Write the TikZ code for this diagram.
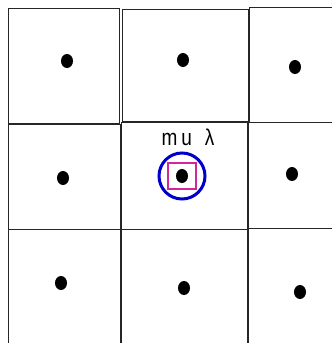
\documentclass[tikz,border=0pt]{standalone}
\usepackage{fontspec}
\setmainfont{Liberation Sans}
\usetikzlibrary{positioning,shapes.geometric}

\begin{document}
\begin{tikzpicture}[
  x=1pt,y=-1pt,
  font=\fontsize{19}{22}\selectfont,
  cell/.style={draw=black!85,line width=0.9pt},
  site/.style={ellipse,fill=black,inner sep=0pt,minimum width=12pt,minimum height=14pt},
  ring/.style={circle,draw=blue!80!black,line width=3pt,minimum size=46pt,inner sep=0pt},
  probe/.style={rectangle,draw={rgb,255:red,208;green,40;blue,150},line width=2pt,minimum width=28pt,minimum height=26pt,inner sep=0pt}
]
\useasboundingbox (0,0) rectangle (332,343);
\clip (0,0) rectangle (332,343);

% cells
\draw[cell] (8,8) rectangle (119,123);
\draw[cell] (122,9) rectangle (248,121);
\draw[cell] (249,7) rectangle (340,122);
\draw[cell] (8,124) rectangle (120,229);
\draw[cell] (121,122) rectangle (247,229);
\draw[cell] (248,122) rectangle (340,228);
\draw[cell] (8,229) rectangle (120,350);
\draw[cell] (121,229) rectangle (247,350);
\draw[cell] (248,228) rectangle (340,350);

% sites
\node[site] (a) at (67,61) {};
\node[site] (b) at (183,60) {};
\node[site] (c) at (295,67) {};
\node[site] (d) at (63,178) {};
\node[site] (e) at (182,176) {};
\node[site] (f) at (292,174) {};
\node[site] (g) at (61,283) {};
\node[site] (h) at (184,288) {};
\node[site] (i) at (300,292) {};

\node[ring] (er) at (e) {};
\node[probe] (ep) at (e) {};
\node[transform shape,yscale=1.2,inner sep=0pt,anchor=base] (lbl) at (188,145) {m\hspace{4pt}u\hspace{13pt}λ};
\end{tikzpicture}
\end{document}
